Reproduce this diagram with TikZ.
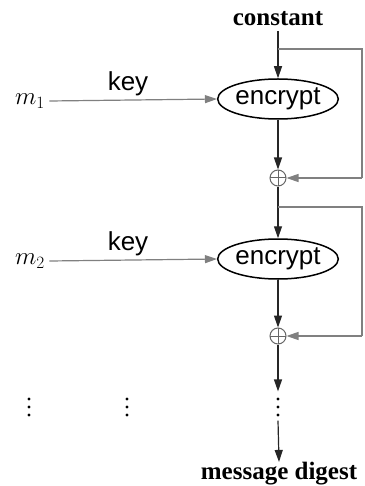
\documentclass[tikz,border=0pt]{standalone}
\usepackage{fontspec}
\setmainfont{Liberation Serif}
\newfontfamily\arialf{Liberation Sans}
\usetikzlibrary{arrows.meta,shapes.geometric}
\begin{document}
\begin{tikzpicture}[x=1pt,y=-1pt,line width=1.2pt,
  arr/.style={-{Triangle[length=12pt,width=8pt]}},
  ln/.style={draw=black!85},
  gl/.style={draw=black!50},
  enc/.style={ellipse,draw,line width=1.5pt,minimum width=120pt,minimum height=40pt,inner sep=0pt,
    font=\arialf\fontsize{26}{28}\selectfont},
  xo/.style={circle,draw=black!60,minimum size=16pt,inner sep=0pt,line width=1pt,
    path picture={\draw[black!60,line width=1pt] (path picture bounding box.north) -- (path picture bounding box.south)
      (path picture bounding box.west) -- (path picture bounding box.east);}},
  ttl/.style={font=\bfseries\fontsize{25}{28}\selectfont,inner sep=0pt},
  keyl/.style={font=\arialf\fontsize{26}{28}\selectfont,inner sep=0pt,anchor=south},
  mm/.style={font=\fontsize{26}{28}\selectfont,inner sep=0pt},
  vd/.style={minimum width=4pt,minimum height=22pt,inner sep=0pt,
    path picture={\fill (path picture bounding box.center) circle (1.6pt)
      ([yshift=-8pt]path picture bounding box.center) circle (1.6pt)
      ([yshift=8pt]path picture bounding box.center) circle (1.6pt);}}]
\useasboundingbox (0,0) rectangle (364,486);

\node[ttl] (const) at (278,19) {constant};
\coordinate (b1) at (278,49);
\coordinate (r1a) at (362,49);
\coordinate (r1b) at (362,178);
\node[enc] (e1) at (278,99) {encrypt};
\node[xo] (x1) at (278,178) {};
\node[mm] (m1) at (30,101) {$m_1$};
\node[keyl] (k1) at (128,96) {key};

\coordinate (b2) at (278,207);
\coordinate (r2a) at (362,207);
\coordinate (r2b) at (362,336);
\node[enc] (e2) at (278,259) {encrypt};
\node[xo] (x2) at (278,336) {};
\node[mm] (m2) at (30,261) {$m_2$};
\node[keyl] (k2) at (128,256) {key};

\node[vd] (d1) at (29,407) {};
\node[vd] (d2) at (127,407) {};
\node[vd] (d3) at (278,407) {};
\node[ttl,anchor=south] (dig) at (279,486) {message digest};

\draw[ln] (const.south) ++(0,4) -- (b1);
\draw[ln,arr] (b1) -- (e1.north);
\draw[gl] (b1) -- (r1a) -- (r1b);
\draw[gl,arr] (r1b) -- (x1.east);
\draw[gl,arr] ([xshift=4pt]m1.east) -- (e1.west);
\draw[ln,arr] (e1.south) -- (x1.north);

\draw[ln] (x1.south) -- (b2);
\draw[ln,arr] (b2) -- (e2.north);
\draw[gl] (b2) -- (r2a) -- (r2b);
\draw[gl,arr] (r2b) -- (x2.east);
\draw[gl,arr] ([xshift=4pt]m2.east) -- (e2.west);
\draw[ln,arr] (e2.south) -- (x2.north);

\draw[ln,arr] (x2.south) -- ([yshift=4pt]d3.north);
\draw[ln,arr] ([yshift=-2pt]d3.south) -- (dig.north);
\end{tikzpicture}
\end{document}
